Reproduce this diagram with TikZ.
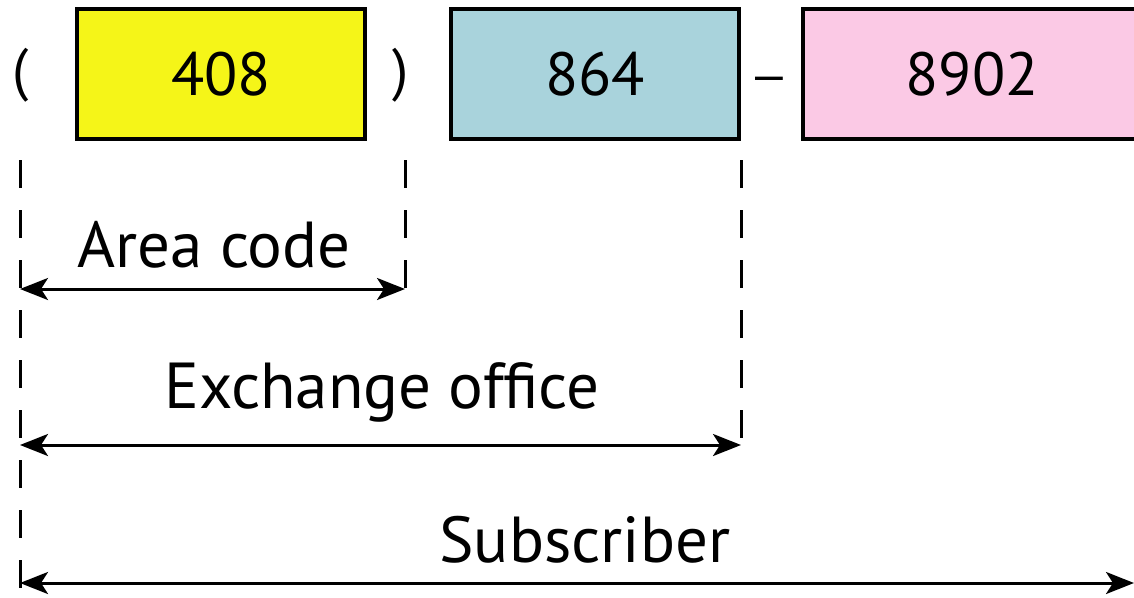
\documentclass[tikz,border=0pt]{standalone}
\usepackage{fontspec}
\setmainfont{PT Sans}
\newfontfamily\dashfont{Liberation Sans}
\usetikzlibrary{arrows.meta}
\definecolor{yel}{HTML}{F5F518}
\definecolor{blu}{HTML}{A9D3DC}
\definecolor{pnk}{HTML}{FBC9E5}
\tikzset{
  digitbox/.style={draw=black, line width=4pt, minimum height=130pt, inner sep=0pt, font=\fontsize{61}{66}\selectfont},
  sep/.style={font=\fontsize{58}{62}\selectfont, inner sep=0pt},
  lbl/.style={font=\fontsize{65}{70}\selectfont, inner sep=0pt},
  guide/.style={line width=3pt, dash pattern=on 28pt off 22pt},
  span/.style={line width=3pt, {Stealth[length=28pt,width=22pt,inset=7pt]}-{Stealth[length=28pt,width=22pt,inset=7pt]}}
}
\begin{document}
\begin{tikzpicture}[x=1pt,y=-1pt]
\useasboundingbox (0,0) rectangle (1134,597);
\node[digitbox, fill=yel, minimum width=288pt] (a) at (221,74) {408};
\node[digitbox, fill=blu, minimum width=288pt] (b) at (595,74) {864};
\node[digitbox, fill=pnk, minimum width=338pt] (c) at (972,74) {8902};
\node[sep] (lp) at (21,75) {(};
\node[sep] (rp) at (401,75) {)};
\node[sep, font=\dashfont\fontsize{50}{56}\selectfont] (dash) at (769,84) {–};
\coordinate (g1t) at (20,160);
\coordinate (g1b) at (20,600);
\coordinate (g2t) at (405,160);
\coordinate (g2b) at (405,291);
\coordinate (g3t) at (741,160);
\coordinate (g3b) at (741,446);
\draw[guide] (g1t) -- (g1b);
\draw[guide] (g2t) -- (g2b);
\draw[guide] (g3t) -- (g3b);
\coordinate (a1) at (20,289);
\coordinate (a2) at (405,289);
\coordinate (e1) at (20,445);
\coordinate (e2) at (741,445);
\coordinate (s1) at (20,583);
\coordinate (s2) at (1134,583);
\draw[span] (a1) -- (a2);
\draw[span] (e1) -- (e2);
\draw[span] (s1) -- (s2);
\node[lbl] (la) at (214,245) {Area code};
\node[lbl] (le) at (382,392) {Exchange office};
\node[lbl] (ls) at (585,540) {Subscriber};
\end{tikzpicture}
\end{document}
